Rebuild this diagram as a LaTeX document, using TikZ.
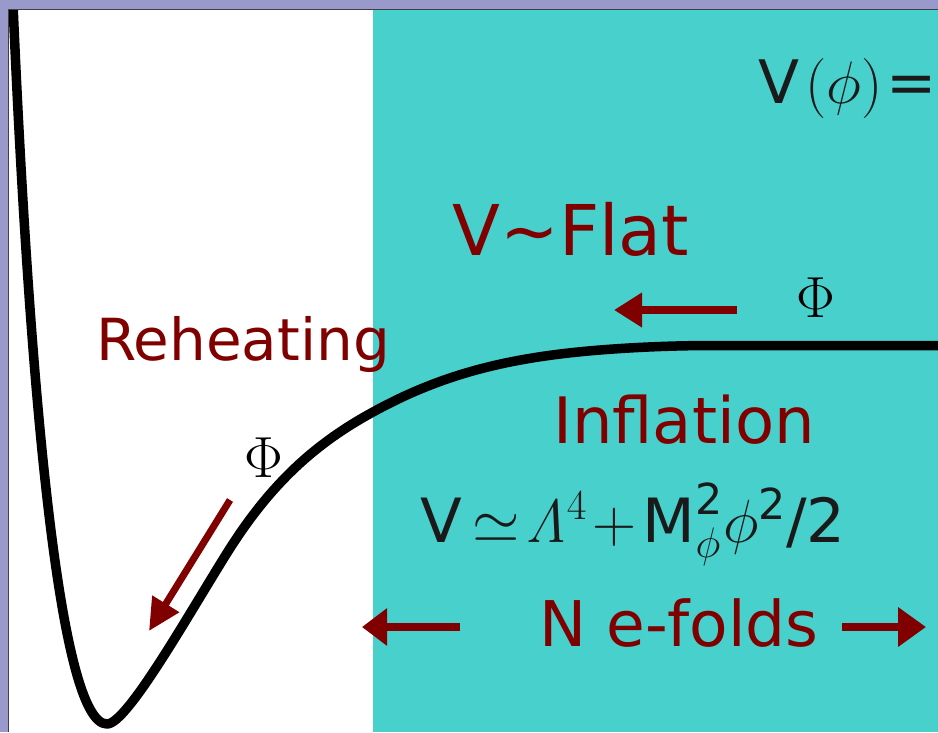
\RequirePackage{fix-cm}
\documentclass[tikz,border=0pt]{standalone}
\usepackage{amsmath}
\usepackage[no-math]{fontspec}
\setmainfont{DejaVu Sans}
\usetikzlibrary{arrows.meta}
\definecolor{lav}{HTML}{9999CC}
\definecolor{tealbg}{HTML}{48D1CC}
\definecolor{mar}{HTML}{800000}
\definecolor{inkc}{HTML}{1A1A1A}
\tikzset{
  lbl/.style={text=mar, inner sep=0pt, anchor=base},
  phil/.style={text=black, inner sep=0pt, anchor=base},
  marrow/.style={draw=mar, line width=8pt},
}
\begin{document}
\begin{tikzpicture}[x=1pt,y=-1pt]
\useasboundingbox (0,0) rectangle (938,732);
\fill[lav] (0,0) rectangle (938,732);
\fill[white] (9,10) rectangle (373,732);
\fill[tealbg] (373,10) rectangle (938,732);
% potential curve
\coordinate (pa) at (13,4);
\coordinate (pb) at (107,724);
\coordinate (pc) at (227,553);
\coordinate (pd) at (373,412);
\coordinate (pe) at (600,350);
\coordinate (pf) at (713,345.5);
\coordinate (pg) at (940,345.5);
\draw[line width=9.5pt, line join=round]
  (pa) .. controls (30,400) and (60,724) .. (pb)
       .. controls (127,724) and (187,617) .. (pc)
       .. controls (272,481) and (318,442) .. (pd)
       .. controls (443,373.5) and (510,357.2) .. (pe)
       .. controls (640,346.8) and (680,345.5) .. (pf)
       -- (pg);
% frame
\fill[lav] (0,0) rectangle (938,9);
\fill[lav] (0,0) rectangle (8,732);
\draw[black!75, line width=1pt] (8.5,732) -- (8.5,9.5) -- (938,9.5);
% labels
\node[lbl] (reh) at (243,360) {\fontsize{58}{60}\selectfont Reheating};
\node[lbl] (flat) at (571,255) {\fontsize{70}{72}\selectfont V\char"223C Flat};
\node[lbl] (infl) at (684,443) {\fontsize{64}{66}\selectfont Inflation};
\node[lbl] (nef) at (679,646) {\fontsize{63}{65}\selectfont N e-folds};
\node[text=inkc, inner sep=0pt, anchor=base] (pot) at (633,542)
  {\fontsize{61}{63}\selectfont $\text{V}\hspace{10pt}{\simeq}\hspace{6pt}\mathit{\Lambda}^{4}\hspace{6pt}{+}\hspace{6pt}\text{M}^{\text{2}}_{\phi}\phi^{\text{2}}\text{/2}$};
\node[text=inkc, inner sep=0pt, anchor=base west] (vphi) at (758,103)
  {\fontsize{60}{62}\selectfont V\hspace{6pt}$(\phi)$\hspace{4pt}=};
\node[phil] (phiup) at (816,317) {\fontsize{58}{60}\selectfont$\Phi$};
\node[phil] (philo) at (264,477) {\fontsize{58}{60}\selectfont$\Phi$};
% arrows
\coordinate (a1s) at (737,310); \coordinate (a1e) at (614,310);
\coordinate (a2s) at (230,500); \coordinate (a2e) at (149,631);
\coordinate (a3s) at (460,627); \coordinate (a3e) at (362,627);
\coordinate (a4s) at (842,627); \coordinate (a4e) at (926,627);
\draw[marrow, -{Triangle[length=28pt,width=33pt]}] (a1s) -- (a1e);
\draw[marrow, line width=7pt, -{Triangle[length=32pt,width=30pt]}] (a2s) -- (a2e);
\draw[marrow, -{Triangle[length=25pt,width=36pt]}] (a3s) -- (a3e);
\draw[marrow, -{Triangle[length=28pt,width=38pt]}] (a4s) -- (a4e);
\end{tikzpicture}
\end{document}
